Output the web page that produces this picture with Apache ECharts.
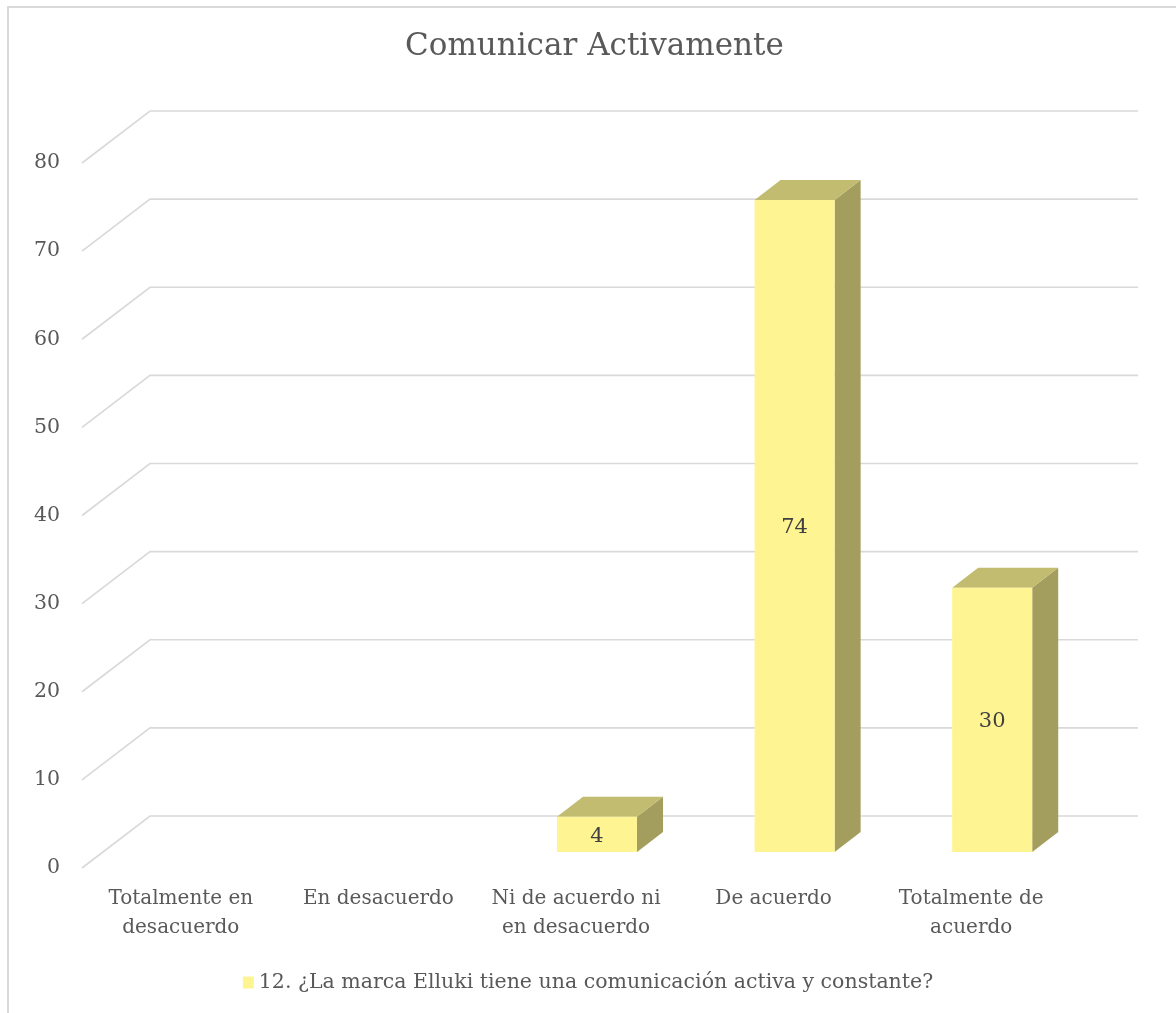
<!DOCTYPE html>
<html>
<head>
<meta charset="utf-8">
<title>Comunicar Activamente</title>
<script src="https://cdn.jsdelivr.net/npm/echarts@6/dist/echarts.min.js"></script>
<style>
  html, body { margin: 0; padding: 0; background: #ffffff; }
  #chart { width: 1176px; height: 1013px; }
</style>
</head>
<body>
<div id="chart"></div>
<script>
// Survey answers for question 12
const categories = [
  'Totalmente en\ndesacuerdo',
  'En desacuerdo',
  'Ni de acuerdo ni\nen desacuerdo',
  'De acuerdo',
  'Totalmente de\nacuerdo'
];
const seriesName = '12. ¿La marca Elluki tiene una comunicación activa y constante?';
const values = [0, 0, 4, 74, 30];
const yTicks = [0, 10, 20, 30, 40, 50, 60, 70, 80];

// Pseudo-3D look: offset of the back wall and of the bar boxes (pixels)
const WALL_DX = 68, WALL_DY = -52;
const BAR_SHIFT_DX = 21, BAR_SHIFT_DY = -16;
const BAR_DEPTH_DX = 26, BAR_DEPTH_DY = -20;
const BAR_WIDTH_RATIO = 0.405;

const FONT = 'DejaVu Serif';
const TEXT = '#595959';
const GRID = '#d9d9d9';
const FRONT = '#FFF492';
const TOP = '#C2BC70';
const SIDE = '#A39D5E';

const chart = echarts.init(document.getElementById('chart'), null, { renderer: 'canvas' });

function renderGridLine(params, api) {
  const v = api.value(0);
  const band = api.size([1, 0])[0];
  const first = api.coord([0, v]);
  const last = api.coord([categories.length - 1, v]);
  const x0 = first[0] - band / 2;
  const x1 = last[0] + band / 2;
  const y = first[1];
  return {
    type: 'polyline',
    shape: { points: [[x0, y], [x0 + WALL_DX, y + WALL_DY], [x1 + WALL_DX, y + WALL_DY]] },
    style: { stroke: GRID, lineWidth: 1.6, fill: null },
    silent: true
  };
}

function renderBar(params, api) {
  const idx = api.value(0);
  const v = api.value(1);
  if (!v) return null;
  const band = api.size([1, 0])[0];
  const base = api.coord([idx, 0]);
  const top = api.coord([idx, v]);
  const w = band * BAR_WIDTH_RATIO;
  const xl = base[0] - w / 2 + BAR_SHIFT_DX;
  const xr = xl + w;
  const yb = base[1] + BAR_SHIFT_DY;
  const yt = top[1] + BAR_SHIFT_DY;
  const dx = BAR_DEPTH_DX, dy = BAR_DEPTH_DY;
  return {
    type: 'group',
    children: [
      {
        type: 'polygon',
        shape: { points: [[xr, yt], [xr + dx, yt + dy], [xr + dx, yb + dy], [xr, yb]] },
        style: { fill: SIDE }
      },
      {
        type: 'polygon',
        shape: { points: [[xl, yt], [xl + dx, yt + dy], [xr + dx, yt + dy], [xr, yt]] },
        style: { fill: TOP }
      },
      {
        type: 'rect',
        shape: { x: xl, y: yt, width: w, height: yb - yt },
        style: { fill: FRONT }
      },
      {
        type: 'text',
        style: {
          x: (xl + xr) / 2,
          y: (yt + yb) / 2 + 2,
          text: String(v),
          fill: '#404040',
          font: '21px "' + FONT + '"',
          align: 'center',
          verticalAlign: 'middle'
        }
      }
    ]
  };
}

const option = {
  backgroundColor: '#ffffff',
  animation: false,
  textStyle: { fontFamily: FONT },
  title: {
    text: 'Comunicar Activamente',
    left: 400,
    top: 26,
    textStyle: { fontFamily: FONT, fontSize: 31, fontWeight: 'normal', color: TEXT }
  },
  legend: {
    bottom: 15,
    left: 'center',
    icon: 'rect',
    itemWidth: 11,
    itemHeight: 12,
    itemGap: 4,
    data: [seriesName],
    textStyle: { fontFamily: FONT, fontSize: 20.5, color: TEXT }
  },
  graphic: [{
    type: 'rect',
    shape: { x: 8, y: 7, width: 1300, height: 1100 },
    style: { fill: null, stroke: GRID, lineWidth: 2 },
    silent: true,
    z: -10
  }],
  grid: {
    left: 82,
    right: 1176 - 1070,
    top: 163,
    bottom: 1013 - 868
  },
  xAxis: {
    type: 'category',
    data: categories,
    axisLine: { show: false },
    axisTick: { show: false },
    axisLabel: {
      interval: 0,
      margin: 16,
      fontFamily: FONT,
      fontSize: 20,
      lineHeight: 29,
      color: TEXT
    }
  },
  yAxis: {
    type: 'value',
    min: 0,
    max: 80,
    interval: 10,
    axisLine: { show: false },
    axisTick: { show: false },
    splitLine: { show: false },
    axisLabel: { margin: 22, fontFamily: FONT, fontSize: 20.5, color: TEXT }
  },
  series: [
    {
      type: 'custom',
      name: 'grid',
      silent: true,
      z: 1,
      renderItem: renderGridLine,
      encode: { y: 0 },
      data: yTicks.map(t => [t]),
      legendHoverLink: false
    },
    {
      type: 'custom',
      name: seriesName,
      z: 2,
      itemStyle: { color: FRONT },
      renderItem: renderBar,
      encode: { x: 0, y: 1 },
      data: values.map((v, i) => [i, v])
    }
  ]
};

chart.setOption(option);
</script>
</body>
</html>
